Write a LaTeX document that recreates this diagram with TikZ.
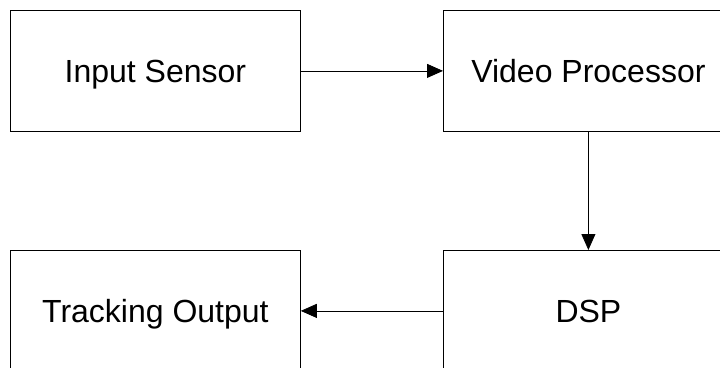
\documentclass[tikz,border=0pt]{standalone}
\usepackage{fontspec}
\setmainfont{Liberation Sans}
\usetikzlibrary{arrows.meta}
\begin{document}
\begin{tikzpicture}[x=1pt,y=-1pt,
  blk/.style={draw, line width=0.8pt, minimum width=290pt, minimum height=121pt, inner sep=0pt, text height=23pt, text depth=0pt, font=\fontsize{32}{38}\selectfont, anchor=north west},
  conn/.style={line width=0.8pt, -{Triangle[length=16pt,width=14pt]}}]
\useasboundingbox (0,0) rectangle (720,367);
\clip (0,0) rectangle (720,367);
\fill[white] (0,0) rectangle (720,367);
\node[blk] (ins) at (10,10) {Input Sensor};
\node[blk] (vp) at (443,10) {Video Processor};
\node[blk] (dsp) at (443,250) {DSP};
\node[blk] (tro) at (10,250) {Tracking Output};
\draw[conn] (ins.east) -- (vp.west);
\draw[conn] (vp.south) -- (dsp.north);
\draw[conn] (dsp.west) -- (tro.east);
\end{tikzpicture}
\end{document}
